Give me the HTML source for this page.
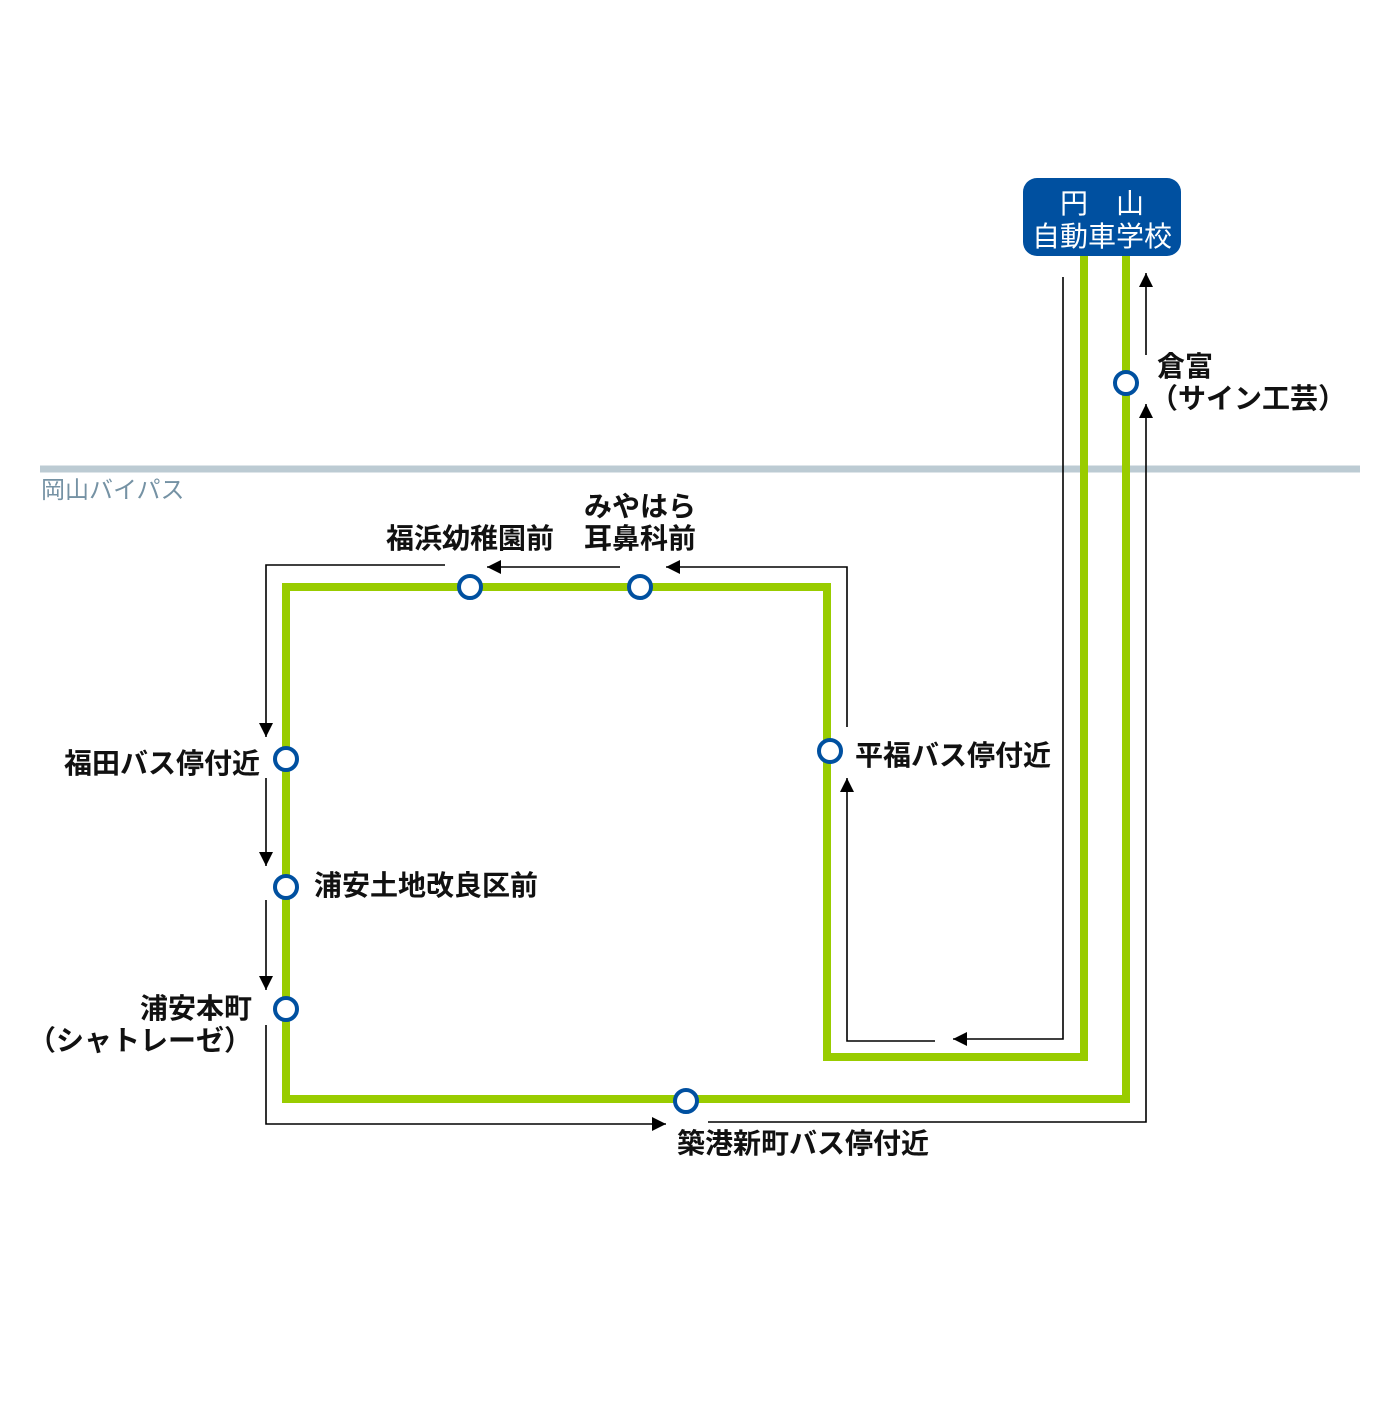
<!DOCTYPE html>
<html><head><meta charset="utf-8"><style>
body{margin:0;background:#fff}
svg text{font-family:"Liberation Sans","Noto Sans CJK JP",sans-serif;font-size:28px;font-weight:bold;fill:#111}
</style></head><body>
<svg width="1400" height="1400" viewBox="0 0 1400 1400" xmlns="http://www.w3.org/2000/svg">
<defs>
<marker id="a" viewBox="0 0 10 10" refX="10" refY="5" markerWidth="14" markerHeight="14" markerUnits="userSpaceOnUse" orient="auto"><path d="M0,0L10,5L0,10z" fill="#000"/></marker>
</defs>
<rect x="40" y="465.5" width="1320" height="7" fill="#bccbd3"/>
<text x="41" y="498" style="font-size:24px;fill:#7592a4;font-weight:normal">岡山バイパス</text>
<g fill="none" stroke="#99cc00" stroke-width="8">
<polyline points="1126,255 1126,1099 286,1099 286,587 827,587 827,1057 1084,1057 1084,255"/>
</g>
<rect x="1023" y="178" width="158" height="78" rx="14" fill="#0050a0"/>
<text x="1102" y="213" text-anchor="middle" style="fill:#fff;font-size:28px;font-weight:normal">円　山</text>
<text x="1102" y="246" text-anchor="middle" style="fill:#fff;font-size:28px;font-weight:normal">自動車学校</text>
<g fill="none" stroke="#000" stroke-width="1.6">
<polyline points="1063,277 1063,1039 953,1039" marker-end="url(#a)"/>
<polyline points="935,1041 847,1041 847,778" marker-end="url(#a)"/>
<polyline points="847,727 847,567 666,567" marker-end="url(#a)"/>
<polyline points="620,567 487,567" marker-end="url(#a)"/>
<polyline points="445,565 266,565 266,737" marker-end="url(#a)"/>
<polyline points="266,778 266,866" marker-end="url(#a)"/>
<polyline points="266,900 266,990" marker-end="url(#a)"/>
<polyline points="266,1025 266,1124 666,1124" marker-end="url(#a)"/>
<polyline points="708,1122 1146,1122 1146,404" marker-end="url(#a)"/>
<polyline points="1146,355 1146,273" marker-end="url(#a)"/>
</g>
<g fill="#fff" stroke="#0050a0" stroke-width="4">
<circle cx="1126" cy="383" r="11"/><circle cx="470" cy="587" r="11"/><circle cx="640" cy="587" r="11"/>
<circle cx="286" cy="759" r="11"/><circle cx="286" cy="887" r="11"/><circle cx="286" cy="1009" r="11"/>
<circle cx="686" cy="1101" r="11"/><circle cx="830" cy="751" r="11"/>
</g>
<text x="1157" y="376">倉富</text>
<text x="1150" y="408">（サイン工芸）</text>
<text x="640" y="516" text-anchor="middle">みやはら</text>
<text x="640" y="548" text-anchor="middle">耳鼻科前</text>
<text x="470" y="548" text-anchor="middle">福浜幼稚園前</text>
<text x="260" y="773" text-anchor="end">福田バス停付近</text>
<text x="314" y="895">浦安土地改良区前</text>
<text x="252" y="1018" text-anchor="end">浦安本町</text>
<text x="252" y="1050" text-anchor="end">（シャトレーゼ）</text>
<text x="855" y="765">平福バス停付近</text>
<text x="677" y="1153">築港新町バス停付近</text>
</svg>
</body></html>
